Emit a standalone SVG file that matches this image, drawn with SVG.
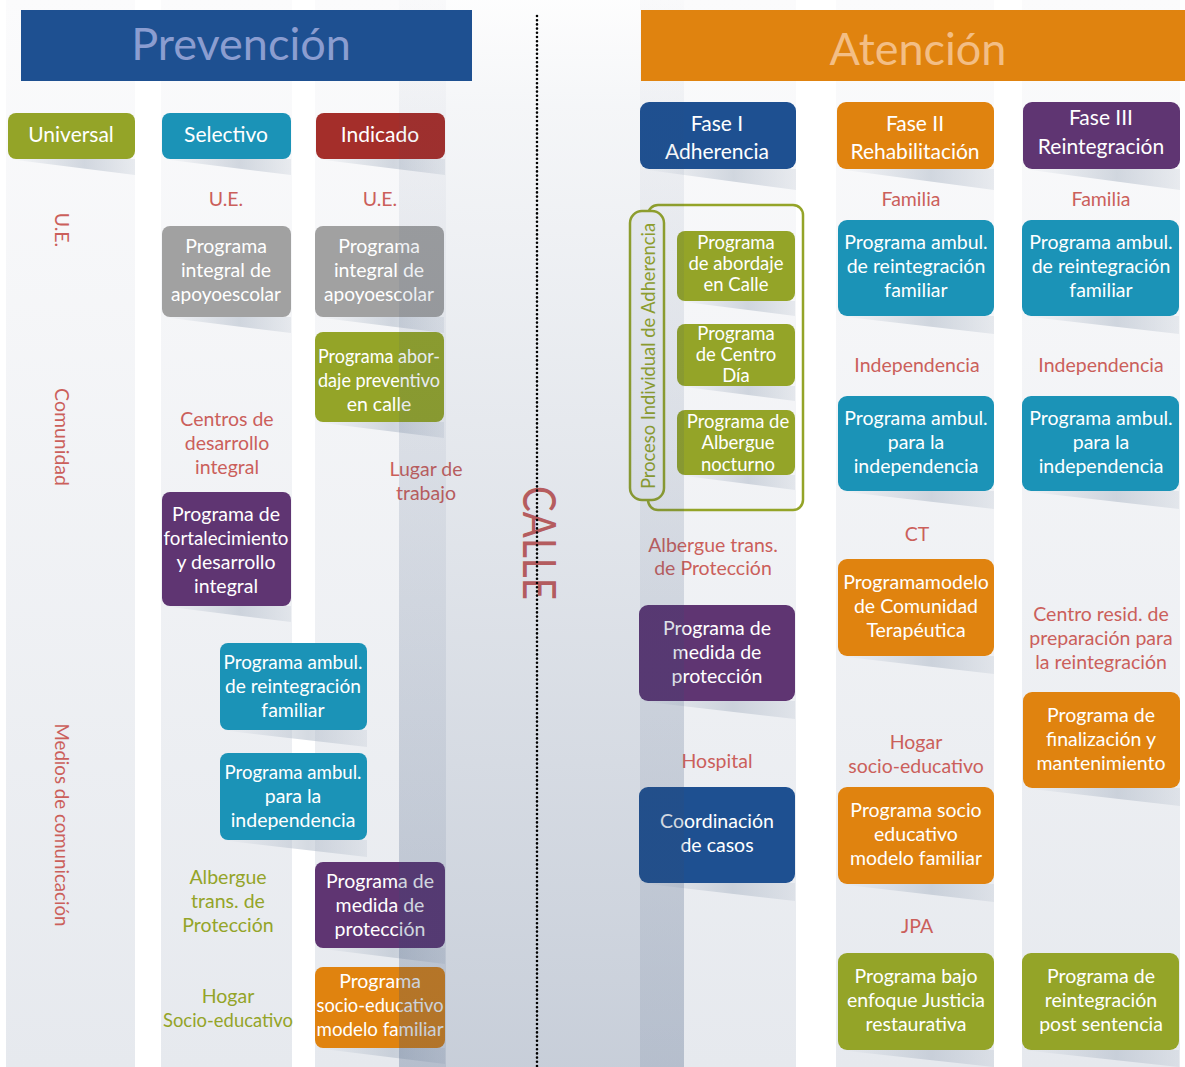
<svg xmlns="http://www.w3.org/2000/svg" width="1185" height="1067" viewBox="0 0 1185 1067">
<defs>
<linearGradient id="colg" x1="0" y1="0" x2="0" y2="1">
<stop offset="0" stop-color="#fbfbfc"/><stop offset="1" stop-color="#e6e9ee"/>
</linearGradient>
<linearGradient id="band" x1="0" y1="0" x2="0" y2="1">
<stop offset="0" stop-color="#324b73" stop-opacity="0.01"/><stop offset="0.1" stop-color="#324b73" stop-opacity="0.05"/><stop offset="1" stop-color="#324b73" stop-opacity="0.27"/>
</linearGradient>
<linearGradient id="shg" x1="0" y1="0" x2="1" y2="0">
<stop offset="0" stop-color="#aab5c4" stop-opacity="0"/><stop offset="0.6" stop-color="#aab5c4" stop-opacity="0.5"/><stop offset="1" stop-color="#aab5c4" stop-opacity="0.2"/>
</linearGradient>
<style>
text{font-family:Lato,"Open Sans","Liberation Sans",sans-serif;text-anchor:middle}
.col{fill:url(#colg)}
.sh{fill:url(#shg)}
.bt{fill:#fff;font-size:19.5px}
.bs{fill:#fff;font-size:18.5px}
.btn{fill:#fff;font-size:21px}
.lr{fill:#cb5f5b;font-size:19.5px}
.lgt{fill:#94a428;font-size:19.5px}
.green{fill:#94a428}
.teal{fill:#1b93b7}
.gray{fill:#a1a1a1}
.purple{fill:#5f3572}
.blue{fill:#1e5091}
.orange{fill:#e0830f}
.red{fill:#a42e2a}
</style>
</defs>
<rect x="0" y="0" width="1185" height="1067" fill="#fff"/>
<g id="columns">
<rect class="col" x="6" y="0" width="129" height="1067"/>
<rect class="col" x="161" y="0" width="131" height="1067"/>
<rect class="col" x="315" y="0" width="131" height="1067"/>
<rect class="col" x="640" y="0" width="156" height="1067"/>
<rect class="col" x="836" y="0" width="158" height="1067"/>
<rect class="col" x="1022" y="0" width="158" height="1067"/>
</g>
<g id="shadows">
<polygon class="sh" points="8,159 135,159 135,175"/>
<polygon class="sh" points="162,159 291,159 291,175"/>
<polygon class="sh" points="316,159 445,159 445,175"/>
<polygon class="sh" points="640,169 796,169 796,190"/>
<polygon class="sh" points="837,169 994,169 994,190"/>
<polygon class="sh" points="1023,169 1180,169 1180,190"/>
<polygon class="sh" points="162,317 291,317 291,333"/>
<polygon class="sh" points="315,317 444,317 444,333"/>
<polygon class="sh" points="315,422 444,422 444,438"/>
<polygon class="sh" points="162,606 291,606 291,622"/>
<polygon class="sh" points="220,730 367,730 367,747"/>
<polygon class="sh" points="220,840 367,840 367,857"/>
<polygon class="sh" points="315,948 445,948 445,964"/>
<polygon class="sh" points="315,1048 445,1048 445,1064"/>
<polygon class="sh" points="677,301 795,301 795,316"/>
<polygon class="sh" points="677,386 795,386 795,401"/>
<polygon class="sh" points="677,475 795,475 795,490"/>
<polygon class="sh" points="639,701 795,701 795,719"/>
<polygon class="sh" points="639,883 795,883 795,901"/>
<polygon class="sh" points="838,316 994,316 994,334"/>
<polygon class="sh" points="838,491 994,491 994,509"/>
<polygon class="sh" points="838,656 994,656 994,674"/>
<polygon class="sh" points="838,884 994,884 994,902"/>
<polygon class="sh" points="838,1050 994,1050 994,1067"/>
<polygon class="sh" points="1022,316 1179,316 1179,334"/>
<polygon class="sh" points="1022,491 1179,491 1179,509"/>
<polygon class="sh" points="1023,788 1180,788 1180,806"/>
<polygon class="sh" points="1022,1050 1179,1050 1179,1067"/>
</g>
<g id="calle"><text transform="translate(523,543) rotate(90)" fill="#cb5f5b" font-size="46" textLength="114" lengthAdjust="spacingAndGlyphs">CALLE</text></g>

<g id="universal"><rect class="green" x="8" y="113" width="127" height="46" rx="8"/><text class="btn" x="71" y="142">Universal</text></g>
<g id="selectivo"><rect class="teal" x="162" y="113" width="129" height="46" rx="8"/><text class="btn" x="226" y="142">Selectivo</text></g>
<g id="indicado"><rect class="red" x="316" y="113" width="129" height="46" rx="8"/><text class="btn" x="380" y="142">Indicado</text></g>

<g id="lbl-ue-side"><text class="lr" transform="translate(55,230) rotate(90)">U.E.</text></g>
<g id="lbl-comunidad"><text class="lr" transform="translate(55,437) rotate(90)">Comunidad</text></g>
<g id="lbl-medios"><text class="lr" transform="translate(55,825) rotate(90)" textLength="203" lengthAdjust="spacingAndGlyphs">Medios de comunicación</text></g>

<g id="sel-ue"><text class="lr" x="226" y="206">U.E.</text></g>
<g id="sel-apoyo"><rect class="gray" x="162" y="226" width="129" height="91" rx="8"/><text class="bt"><tspan x="226" y="253">Programa</tspan><tspan x="226" y="277">integral de</tspan><tspan x="226" y="301" textLength="110" lengthAdjust="spacingAndGlyphs">apoyoescolar</tspan></text></g>
<g id="sel-centros"><text class="lr"><tspan x="227" y="426">Centros de</tspan><tspan x="227" y="450">desarrollo</tspan><tspan x="227" y="474">integral</tspan></text></g>
<g id="sel-fortalecimiento"><rect class="purple" x="162" y="492" width="129" height="114" rx="8"/><text class="bt"><tspan x="226" y="521">Programa de</tspan><tspan x="226" y="545" textLength="125" lengthAdjust="spacingAndGlyphs">fortalecimiento</tspan><tspan x="226" y="569">y desarrollo</tspan><tspan x="226" y="593">integral</tspan></text></g>
<g id="sel-reintegracion"><rect class="teal" x="220" y="643" width="147" height="87" rx="8"/><text class="bt"><tspan x="293" y="669" textLength="139" lengthAdjust="spacingAndGlyphs">Programa ambul.</tspan><tspan x="293" y="693" textLength="136" lengthAdjust="spacingAndGlyphs">de reintegración</tspan><tspan x="293" y="717">familiar</tspan></text></g>
<g id="sel-independencia"><rect class="teal" x="220" y="753" width="147" height="87" rx="8"/><text class="bt"><tspan x="293" y="779" textLength="137" lengthAdjust="spacingAndGlyphs">Programa ambul.</tspan><tspan x="293" y="803">para la</tspan><tspan x="293" y="827">independencia</tspan></text></g>
<g id="sel-albergue"><text class="lgt"><tspan x="228" y="884">Albergue</tspan><tspan x="228" y="908">trans. de</tspan><tspan x="228" y="932">Protección</tspan></text></g>
<g id="sel-hogar"><text class="lgt"><tspan x="228" y="1003">Hogar</tspan><tspan x="228" y="1027" textLength="130" lengthAdjust="spacingAndGlyphs">Socio-educativo</tspan></text></g>

<g id="ind-ue"><text class="lr" x="380" y="206">U.E.</text></g>
<g id="ind-apoyo"><rect class="gray" x="315" y="226" width="129" height="91" rx="8"/><text class="bt"><tspan x="379" y="253">Programa</tspan><tspan x="379" y="277">integral de</tspan><tspan x="379" y="301" textLength="110" lengthAdjust="spacingAndGlyphs">apoyoescolar</tspan></text></g>
<g id="ind-abordaje"><rect class="green" x="315" y="332" width="129" height="90" rx="8"/><text class="bt"><tspan x="379" y="363" textLength="122" lengthAdjust="spacingAndGlyphs">Programa abor-</tspan><tspan x="379" y="387" textLength="122" lengthAdjust="spacingAndGlyphs">daje preventivo</tspan><tspan x="379" y="411">en calle</tspan></text></g>
<g id="ind-lugar"><text class="lr"><tspan x="426" y="476">Lugar de</tspan><tspan x="426" y="500">trabajo</tspan></text></g>
<g id="ind-medida"><rect class="purple" x="315" y="862" width="130" height="86" rx="8"/><text class="bt"><tspan x="380" y="888">Programa de</tspan><tspan x="380" y="912">medida de</tspan><tspan x="380" y="936">protección</tspan></text></g>
<g id="ind-socio"><rect class="orange" x="315" y="967" width="130" height="81" rx="8"/><text class="bt"><tspan x="380" y="988">Programa</tspan><tspan x="380" y="1012" textLength="127" lengthAdjust="spacingAndGlyphs">socio-educativo</tspan><tspan x="380" y="1036" textLength="127" lengthAdjust="spacingAndGlyphs">modelo familiar</tspan></text></g>

<g id="fase1"><rect class="blue" x="640" y="102" width="156" height="67" rx="9"/><text class="btn"><tspan x="717" y="131">Fase I</tspan><tspan x="717" y="159">Adherencia</tspan></text></g>
<g id="fase2"><rect class="orange" x="837" y="102" width="157" height="67" rx="9"/><text class="btn"><tspan x="915" y="131">Fase II</tspan><tspan x="915" y="159">Rehabilitación</tspan></text></g>
<g id="fase3"><rect class="purple" x="1023" y="102" width="157" height="67" rx="9"/><text class="btn"><tspan x="1101" y="125">Fase III</tspan><tspan x="1101" y="154">Reintegración</tspan></text></g>

<g id="f1-adherencia">
<rect x="648" y="205" width="155" height="305" rx="10" fill="none" stroke="#94a428" stroke-width="2.5"/>
<rect x="630" y="211" width="34" height="289" rx="12" fill="#f2f4f7" stroke="#94a428" stroke-width="2.5"/>
<text transform="translate(655,356) rotate(-90)" fill="#94a428" font-size="19" textLength="266" lengthAdjust="spacingAndGlyphs">Proceso Individual de Adherencia</text>
</g>
<g id="f1-calle"><rect class="green" x="677" y="231" width="118" height="70" rx="8"/><text class="bs"><tspan x="736" y="249">Programa</tspan><tspan x="736" y="270">de abordaje</tspan><tspan x="736" y="291">en Calle</tspan></text></g>
<g id="f1-centro"><rect class="green" x="677" y="324" width="118" height="62" rx="8"/><text class="bs"><tspan x="736" y="340">Programa</tspan><tspan x="736" y="361">de Centro</tspan><tspan x="736" y="382">Día</tspan></text></g>
<g id="f1-albergue-noct"><rect class="green" x="677" y="410" width="118" height="65" rx="8"/><text class="bs"><tspan x="738" y="428">Programa de</tspan><tspan x="738" y="449">Albergue</tspan><tspan x="738" y="471">nocturno</tspan></text></g>
<g id="f1-albergue-trans"><text class="lr"><tspan x="713" y="552">Albergue trans.</tspan><tspan x="713" y="575">de Protección</tspan></text></g>
<g id="f1-medida"><rect class="purple" x="639" y="605" width="156" height="96" rx="9"/><text class="bt"><tspan x="717" y="635">Programa de</tspan><tspan x="717" y="659">medida de</tspan><tspan x="717" y="683">protección</tspan></text></g>
<g id="f1-hospital"><text class="lr" x="717" y="768">Hospital</text></g>
<g id="f1-coordinacion"><rect class="blue" x="639" y="787" width="156" height="96" rx="9"/><text class="bt"><tspan x="717" y="828">Coordinación</tspan><tspan x="717" y="852">de casos</tspan></text></g>

<g id="f2-familia"><text class="lr" x="911" y="206">Familia</text></g>
<g id="f2-reintegracion"><rect class="teal" x="838" y="220" width="156" height="96" rx="9"/><text class="bt"><tspan x="916" y="249">Programa ambul.</tspan><tspan x="916" y="273">de reintegración</tspan><tspan x="916" y="297">familiar</tspan></text></g>
<g id="f2-indep-lbl"><text class="lr" x="917" y="372">Independencia</text></g>
<g id="f2-independencia"><rect class="teal" x="838" y="396" width="156" height="95" rx="9"/><text class="bt"><tspan x="916" y="425">Programa ambul.</tspan><tspan x="916" y="449">para la</tspan><tspan x="916" y="473">independencia</tspan></text></g>
<g id="f2-ct"><text class="lr" x="917" y="541">CT</text></g>
<g id="f2-comunidad"><rect class="orange" x="838" y="559" width="156" height="97" rx="9"/><text class="bt"><tspan x="916" y="589">Programamodelo</tspan><tspan x="916" y="613">de Comunidad</tspan><tspan x="916" y="637">Terapéutica</tspan></text></g>
<g id="f2-hogar"><text class="lr"><tspan x="916" y="749">Hogar</tspan><tspan x="916" y="773">socio-educativo</tspan></text></g>
<g id="f2-socio"><rect class="orange" x="838" y="787" width="156" height="97" rx="9"/><text class="bt"><tspan x="916" y="817">Programa socio</tspan><tspan x="916" y="841">educativo</tspan><tspan x="916" y="865">modelo familiar</tspan></text></g>
<g id="f2-jpa"><text class="lr" x="917" y="933">JPA</text></g>
<g id="f2-justicia"><rect class="green" x="838" y="953" width="156" height="97" rx="9"/><text class="bt"><tspan x="916" y="983">Programa bajo</tspan><tspan x="916" y="1007">enfoque Justicia</tspan><tspan x="916" y="1031">restaurativa</tspan></text></g>

<g id="f3-familia"><text class="lr" x="1101" y="206">Familia</text></g>
<g id="f3-reintegracion"><rect class="teal" x="1022" y="220" width="157" height="96" rx="9"/><text class="bt"><tspan x="1101" y="249">Programa ambul.</tspan><tspan x="1101" y="273">de reintegración</tspan><tspan x="1101" y="297">familiar</tspan></text></g>
<g id="f3-indep-lbl"><text class="lr" x="1101" y="372">Independencia</text></g>
<g id="f3-independencia"><rect class="teal" x="1022" y="396" width="157" height="95" rx="9"/><text class="bt"><tspan x="1101" y="425">Programa ambul.</tspan><tspan x="1101" y="449">para la</tspan><tspan x="1101" y="473">independencia</tspan></text></g>
<g id="f3-centro"><text class="lr"><tspan x="1101" y="621">Centro resid. de</tspan><tspan x="1101" y="645">preparación para</tspan><tspan x="1101" y="669">la reintegración</tspan></text></g>
<g id="f3-finalizacion"><rect class="orange" x="1023" y="692" width="157" height="96" rx="9"/><text class="bt"><tspan x="1101" y="722">Programa de</tspan><tspan x="1101" y="746">finalización y</tspan><tspan x="1101" y="770">mantenimiento</tspan></text></g>
<g id="f3-post"><rect class="green" x="1022" y="953" width="157" height="97" rx="9"/><text class="bt"><tspan x="1101" y="983">Programa de</tspan><tspan x="1101" y="1007">reintegración</tspan><tspan x="1101" y="1031">post sentencia</tspan></text></g>

<rect id="band-overlay" x="399" y="0" width="285" height="1067" fill="url(#band)"/>

<g id="prevencion"><rect class="blue" x="21" y="10" width="451" height="71"/><text x="241" y="60" font-size="45" fill="#8b9dd0">Prevención</text></g>
<g id="atencion"><rect class="orange" x="641" y="10" width="544" height="71"/><text x="918" y="65" font-size="45" fill="#f3be85">Atención</text></g>

<line id="divider" x1="537" y1="16" x2="537" y2="1067" stroke="#000" stroke-width="2.6" stroke-dasharray="0 4.2" stroke-linecap="round"/>
<g id="connectors"/>
</svg>
